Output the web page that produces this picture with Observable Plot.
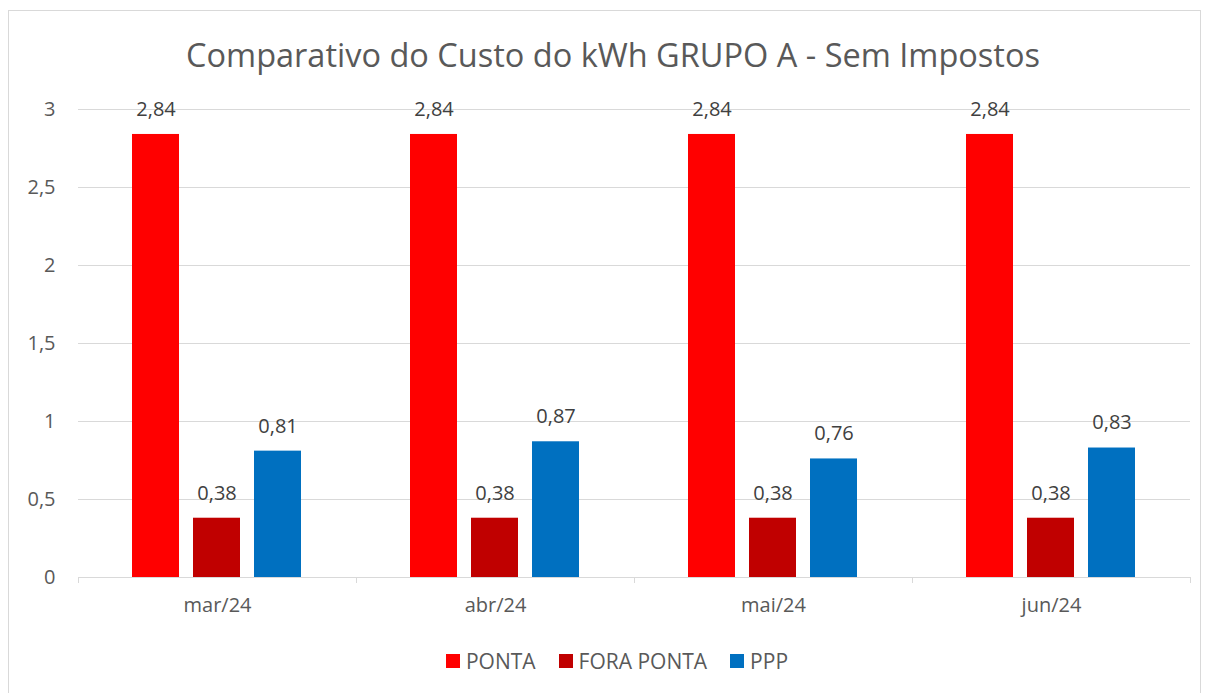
<!DOCTYPE html>
<html>
<head>
<meta charset="utf-8">
<script src="https://cdn.jsdelivr.net/npm/d3@7"></script>
<script src="https://cdn.jsdelivr.net/npm/@observablehq/plot@0.6"></script>
<style>
  html, body { margin: 0; padding: 0; background: #fff; }
  #wrap { position: relative; width: 1205px; height: 693px; overflow: hidden; font-family: "Open Sans", sans-serif; }
  #frame { position: absolute; left: 8px; top: 10px; width: 1193px; height: 700px; border: 1px solid #d9d9d9; box-sizing: border-box; }
  #title { position: absolute; left: 0; top: 35px; width: 1226px; text-align: center; font-size: 32.5px; line-height: 40px; color: #595959; white-space: nowrap; }
  #chart { position: absolute; left: 0; top: 90px; }
  #legend { position: absolute; left: 0; top: 650px; width: 1234px; display: flex; justify-content: center; gap: 23px; font-size: 21px; line-height: 22px; color: #595959; }
  .item { display: flex; align-items: center; gap: 6px; }
  .sw { width: 14px; height: 14px; display: inline-block; }
</style>
</head>
<body>
<div id="wrap">
  <div id="frame"></div>
  <div id="title">Comparativo do Custo do kWh GRUPO A - Sem Impostos</div>
  <div id="chart"></div>
  <div id="legend"></div>
</div>
<script>
const months = ["mar/24", "abr/24", "mai/24", "jun/24"];
const series = ["PONTA", "FORA PONTA", "PPP"];
const ponta = [2.84, 2.84, 2.84, 2.84];
const foraPonta = [0.38, 0.38, 0.38, 0.38];
const ppp = [0.81, 0.87, 0.76, 0.83];
const colors = ["#FF0000", "#C00000", "#0070C0"];
const yTicks = [0, 0.5, 1, 1.5, 2, 2.5, 3];

const values = [ponta, foraPonta, ppp];
const data = months.flatMap((m, i) => series.map((s, j) => ({month: m, series: s, value: values[j][i]})));

const fmtTick = d => String(d).replace(".", ",");
const fmtVal = d => d.toFixed(2).replace(".", ",");

const bandHalf = (1205 - 78 - 15) / months.length / 2;

const chart = Plot.plot({
  width: 1205,
  height: 540,
  marginLeft: 78,
  marginRight: 15,
  marginTop: 19,
  marginBottom: 53,
  style: {fontFamily: "'Open Sans', sans-serif", fontSize: "20px", color: "#595959", background: "transparent", overflow: "visible"},
  fx: {domain: months, padding: 0, label: null},
  x: {domain: series, paddingInner: 0.227, paddingOuter: 0.864, axis: null},
  y: {domain: [0, 3], label: null},
  color: {domain: series, range: colors},
  marks: [
    Plot.gridY(yTicks, {stroke: "#d9d9d9", strokeOpacity: 1, strokeWidth: 1}),
    Plot.axisY(yTicks, {tickSize: 0, tickPadding: 23, tickFormat: fmtTick, fontSize: 20, fill: "#595959", label: null}),
    Plot.ruleY([0], {stroke: "#d9d9d9", strokeWidth: 1}),
    Plot.barY(data, {fx: "month", x: "series", y: "value", fill: "series"}),
    Plot.text(data, {fx: "month", x: "series", y: "value", text: d => fmtVal(d.value), dy: -25, lineAnchor: "middle", fill: "#404040", fontSize: 20}),
    Plot.axisFx({anchor: "bottom", tickSize: 0, tickPadding: 20, fontSize: 20, fill: "#595959", label: null}),
    Plot.axisFx({anchor: "bottom", tickFormat: () => "", tickSize: 6, dx: -bandHalf, stroke: "#d9d9d9", strokeOpacity: 1, label: null}),
    Plot.axisFx({anchor: "bottom", tickFormat: () => "", tickSize: 6, dx: bandHalf, stroke: "#d9d9d9", strokeOpacity: 1, label: null})
  ]
});
document.getElementById("chart").appendChild(chart);

const legend = document.getElementById("legend");
series.forEach((s, i) => {
  const item = document.createElement("div");
  item.className = "item";
  const sw = document.createElement("span");
  sw.className = "sw";
  sw.style.background = colors[i];
  const label = document.createElement("span");
  label.textContent = s;
  item.appendChild(sw);
  item.appendChild(label);
  legend.appendChild(item);
});
</script>
</body>
</html>
